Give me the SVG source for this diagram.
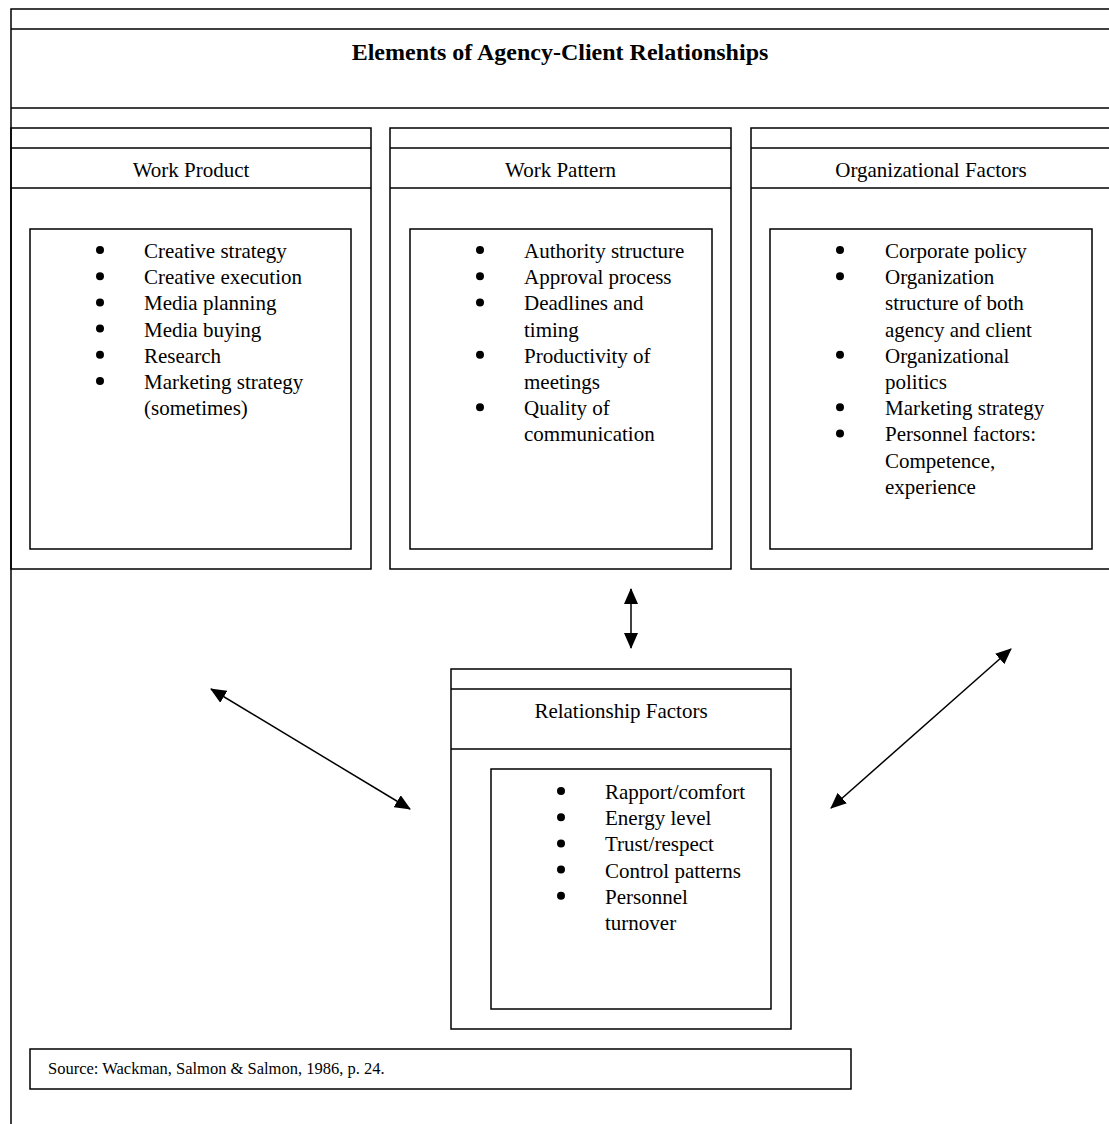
<svg xmlns="http://www.w3.org/2000/svg" width="1109" height="1124" viewBox="0 0 1109 1124">
<style>
.b{fill:none;stroke:#000;stroke-width:1.5}
.t{font-family:"Liberation Serif","Times New Roman",serif;font-size:21px;fill:#000}
.c{text-anchor:middle}
.h{font-family:"Liberation Serif","Times New Roman",serif;font-size:24px;font-weight:bold;fill:#000;text-anchor:middle}
.s{font-family:"Liberation Serif","Times New Roman",serif;font-size:16.5px;fill:#000}
.d{fill:#000}
.a{stroke:#000;stroke-width:1.5;fill:none;marker-start:url(#ah);marker-end:url(#ah)}
</style>
<defs>
<marker id="ah" viewBox="0 0 16 14" refX="15" refY="7" markerWidth="16" markerHeight="14" markerUnits="userSpaceOnUse" orient="auto-start-reverse">
<path d="M0,0 L16,7 L0,14 Z" fill="#000"/>
</marker>
</defs>
<rect width="1109" height="1124" fill="#fff"/>

<g id="frame">
<rect class="b" x="11" y="9" width="1110" height="1130"/>
<line class="b" x1="11" y1="29" x2="1115" y2="29"/>
<line class="b" x1="11" y1="108" x2="1115" y2="108"/>
<text class="h" x="560" y="60">Elements of Agency-Client Relationships</text>
</g>

<g id="work-product">
<rect class="b" x="11" y="128" width="360" height="441"/>
<line class="b" x1="11" y1="148" x2="371" y2="148"/>
<line class="b" x1="11" y1="188" x2="371" y2="188"/>
<text class="t c" x="191" y="177">Work Product</text>
<rect class="b" x="30" y="229" width="321" height="320"/>
<g class="d">
<circle cx="100" cy="250" r="4"/><circle cx="100" cy="276.2" r="4"/><circle cx="100" cy="302.4" r="4"/><circle cx="100" cy="328.6" r="4"/><circle cx="100" cy="354.8" r="4"/><circle cx="100" cy="381" r="4"/>
</g>
<text class="t" x="144" y="258">Creative strategy</text>
<text class="t" x="144" y="284.2">Creative execution</text>
<text class="t" x="144" y="310.4">Media planning</text>
<text class="t" x="144" y="336.6">Media buying</text>
<text class="t" x="144" y="362.8">Research</text>
<text class="t" x="144" y="389">Marketing strategy</text>
<text class="t" x="144" y="415.2">(sometimes)</text>
</g>

<g id="work-pattern">
<rect class="b" x="390" y="128" width="341" height="441"/>
<line class="b" x1="390" y1="148" x2="731" y2="148"/>
<line class="b" x1="390" y1="188" x2="731" y2="188"/>
<text class="t c" x="560.5" y="177">Work Pattern</text>
<rect class="b" x="410" y="229" width="302" height="320"/>
<g class="d">
<circle cx="480" cy="250" r="4"/><circle cx="480" cy="276.2" r="4"/><circle cx="480" cy="302.4" r="4"/><circle cx="480" cy="354.8" r="4"/><circle cx="480" cy="407.2" r="4"/>
</g>
<text class="t" x="524" y="258">Authority structure</text>
<text class="t" x="524" y="284.2">Approval process</text>
<text class="t" x="524" y="310.4">Deadlines and</text>
<text class="t" x="524" y="336.6">timing</text>
<text class="t" x="524" y="362.8">Productivity of</text>
<text class="t" x="524" y="389">meetings</text>
<text class="t" x="524" y="415.2">Quality of</text>
<text class="t" x="524" y="441.4">communication</text>
</g>

<g id="organizational-factors">
<rect class="b" x="751" y="128" width="420" height="441"/>
<line class="b" x1="751" y1="148" x2="1171" y2="148"/>
<line class="b" x1="751" y1="188" x2="1171" y2="188"/>
<text class="t c" x="931" y="177">Organizational Factors</text>
<rect class="b" x="770" y="229" width="322" height="320"/>
<g class="d">
<circle cx="840" cy="250" r="4"/><circle cx="840" cy="276.2" r="4"/><circle cx="840" cy="354.8" r="4"/><circle cx="840" cy="407.2" r="4"/><circle cx="840" cy="433.4" r="4"/>
</g>
<text class="t" x="885" y="258">Corporate policy</text>
<text class="t" x="885" y="284.2">Organization</text>
<text class="t" x="885" y="310.4">structure of both</text>
<text class="t" x="885" y="336.6">agency and client</text>
<text class="t" x="885" y="362.8">Organizational</text>
<text class="t" x="885" y="389">politics</text>
<text class="t" x="885" y="415.2">Marketing strategy</text>
<text class="t" x="885" y="441.4">Personnel factors:</text>
<text class="t" x="885" y="467.6">Competence,</text>
<text class="t" x="885" y="493.8">experience</text>
</g>

<g id="relationship-factors">
<rect class="b" x="451" y="669" width="340" height="360"/>
<line class="b" x1="451" y1="689" x2="791" y2="689"/>
<line class="b" x1="451" y1="749" x2="791" y2="749"/>
<text class="t c" x="621" y="718">Relationship Factors</text>
<rect class="b" x="491" y="769" width="280" height="240"/>
<g class="d">
<circle cx="561" cy="791" r="4"/><circle cx="561" cy="817.2" r="4"/><circle cx="561" cy="843.4" r="4"/><circle cx="561" cy="869.6" r="4"/><circle cx="561" cy="895.8" r="4"/>
</g>
<text class="t" x="605" y="799">Rapport/comfort</text>
<text class="t" x="605" y="825.2">Energy level</text>
<text class="t" x="605" y="851.4">Trust/respect</text>
<text class="t" x="605" y="877.6">Control patterns</text>
<text class="t" x="605" y="903.8">Personnel</text>
<text class="t" x="605" y="930">turnover</text>
</g>

<g id="source">
<rect class="b" x="30" y="1049" width="821" height="40"/>
<text class="s" x="48" y="1074">Source: Wackman, Salmon &amp; Salmon, 1986, p. 24.</text>
</g>

<g id="connectors">
<line class="a" x1="631" y1="589" x2="631" y2="648"/>
<line class="a" x1="211" y1="689" x2="410" y2="809"/>
<line class="a" x1="1011" y1="649" x2="831" y2="808"/>
</g>
</svg>
